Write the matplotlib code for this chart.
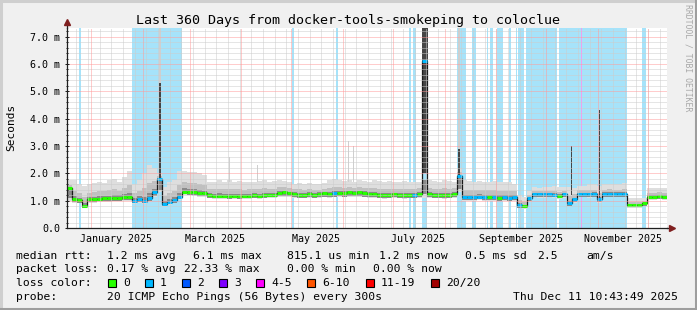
import datetime as dt
import numpy as np
import matplotlib
matplotlib.use('Agg')
import matplotlib.pyplot as plt
import matplotlib.dates as mdates
from matplotlib.patches import Rectangle
from matplotlib.lines import Line2D
from matplotlib.ticker import MultipleLocator, FuncFormatter

plt.rcParams['font.family'] = ['DejaVu Sans Mono', 'DejaVu Sans']

# ---- data (360 days, one value every 3 days) ----
start_time = dt.datetime(2024, 12, 17, 10)
span_days = 360
step_days = 3

median_ms = [
    1.45, 1.05, 1.02, 0.82, 1.05, 1.05, 1.07, 1.08, 1.08, 1.10,
    1.10, 1.12, 1.12, 1.00, 1.05, 1.00, 1.08, 1.30, 1.80, 0.88,
    0.95, 1.02, 1.15, 1.33, 1.32, 1.30, 1.27, 1.27, 1.20, 1.18,
    1.18, 1.18, 1.17, 1.18, 1.17, 1.18, 1.18, 1.20, 1.18, 1.20,
    1.22, 1.22, 1.28, 1.30, 1.27, 1.25, 1.22, 1.22, 1.25, 1.22,
    1.25, 1.27, 1.25, 1.27, 1.28, 1.27, 1.30, 1.28, 1.30, 1.27,
    1.25, 1.23, 1.22, 1.20, 1.22, 1.23, 1.22, 1.20, 1.22, 1.22,
    1.25, 6.10, 1.25, 1.22, 1.22, 1.20, 1.22, 1.25, 1.90, 1.12,
    1.12, 1.13, 1.15, 1.12, 1.12, 1.12, 1.10, 1.12, 1.10, 1.12,
    0.85, 0.80, 1.10, 1.25, 1.23, 1.23, 1.25, 1.22, 1.18, 1.23,
    0.90, 1.05, 1.25, 1.25, 1.23, 1.25, 1.05, 1.25, 1.25, 1.25,
    1.25, 1.25, 0.85, 0.85, 0.85, 0.90, 1.15, 1.15, 1.18, 1.15,
]

smoke_lo = [
    1.00, 0.92, 0.90, 0.72, 0.92, 0.93, 0.95, 0.96, 0.96, 0.98,
    0.98, 1.00, 1.00, 0.88, 0.92, 0.88, 0.95, 1.12, 1.30, 0.78,
    0.84, 0.90, 1.02, 1.20, 1.20, 1.18, 1.15, 1.15, 1.08, 1.06,
    1.06, 1.06, 1.05, 1.06, 1.05, 1.06, 1.06, 1.08, 1.06, 1.08,
    1.10, 1.10, 1.14, 1.15, 1.13, 1.10, 1.08, 1.08, 1.10, 1.08,
    1.10, 1.12, 1.10, 1.12, 1.13, 1.12, 1.15, 1.13, 1.15, 1.12,
    1.10, 1.10, 1.08, 1.07, 1.08, 1.10, 1.08, 1.07, 1.08, 1.08,
    1.10, 1.10, 1.10, 1.08, 1.08, 1.06, 1.08, 1.10, 1.30, 1.00,
    1.00, 1.00, 1.02, 1.00, 1.00, 1.00, 0.98, 1.00, 0.98, 1.00,
    0.72, 0.70, 0.95, 1.12, 1.10, 1.10, 1.12, 1.10, 1.06, 1.10,
    0.80, 0.92, 1.12, 1.12, 1.10, 1.12, 0.92, 1.12, 1.12, 1.12,
    1.12, 1.12, 0.75, 0.75, 0.75, 0.80, 1.03, 1.03, 1.05, 1.03,
]

smoke_hi = [
    1.75, 1.75, 1.60, 1.55, 1.60, 1.65, 1.70, 1.65, 1.75, 1.80,
    1.70, 1.85, 2.10, 1.60, 1.75, 2.00, 2.30, 2.20, 2.00, 1.50,
    1.70, 1.75, 2.10, 2.10, 2.05, 2.05, 2.00, 1.95, 1.70, 1.70,
    1.75, 1.70, 1.75, 1.70, 1.72, 1.68, 1.70, 1.70, 1.72, 1.75,
    1.70, 1.72, 1.75, 1.72, 1.70, 1.62, 1.65, 1.60, 1.65, 1.62,
    1.60, 1.65, 1.75, 1.78, 1.75, 1.72, 1.75, 1.70, 1.75, 1.72,
    1.70, 1.75, 1.72, 1.70, 1.72, 1.68, 1.70, 1.72, 1.70, 1.68,
    1.70, 1.75, 1.75, 1.72, 1.70, 1.75, 1.72, 1.70, 2.20, 1.75,
    1.72, 1.70, 1.72, 1.70, 1.70, 1.72, 1.70, 1.68, 1.70, 1.60,
    1.20, 1.15, 1.35, 1.50, 1.48, 1.50, 1.50, 1.52, 1.50, 1.50,
    1.50, 1.45, 1.55, 1.55, 1.60, 1.60, 1.55, 1.60, 1.62, 1.60,
    1.60, 1.65, 1.10, 1.10, 1.10, 1.10, 1.45, 1.45, 1.45, 1.45,
]

# loss per sample: 0 -> 0 lost, 1 -> 1 lost
loss_level = [
    0, 0, 0, 0, 0, 0, 0, 0, 0, 0,
    0, 0, 0, 1, 1, 1, 1, 1, 1, 1,
    1, 1, 1, 0, 0, 0, 0, 0, 0, 0,
    0, 0, 0, 0, 0, 0, 0, 0, 0, 0,
    0, 0, 0, 0, 0, 0, 0, 0, 0, 0,
    0, 0, 0, 1, 0, 0, 0, 0, 0, 0,
    0, 0, 0, 0, 0, 0, 0, 0, 0, 1,
    0, 1, 0, 0, 0, 0, 0, 0, 1, 1,
    1, 1, 1, 1, 0, 1, 0, 1, 1, 1,
    1, 0, 1, 1, 1, 1, 1, 1, 0, 1,
    1, 1, 1, 1, 1, 1, 1, 1, 1, 1,
    1, 1, 0, 0, 0, 0, 0, 0, 0, 0,
]

# short-lived outliers (days from start)
spike_start = [55.4, 97.0, 114.0, 168.4, 171.4, 213.0, 234.4, 302.4, 319.2]
spike_end = [56.6, 97.6, 114.6, 169.0, 172.0, 216.3, 235.6, 302.9, 320.1]
spike_base = [1.80, 1.70, 1.70, 1.70, 1.70, 2.00, 1.90, 1.20, 1.10]
spike_dark = [5.30, 1.70, 1.70, 1.70, 1.70, 7.50, 2.90, 3.00, 4.30]
spike_top = [7.50, 2.60, 2.30, 3.20, 3.00, 7.50, 7.50, 3.00, 4.30]

# periods with packet loss (days from start)
loss_start = [7.2, 39.2, 135.0, 161.4, 205.2, 207.6, 213.0, 234.0, 243.0, 252.0,
              253.8, 258.0, 265.2, 269.4, 270.6, 275.4, 295.2, 345.0]
loss_end = [8.4, 68.8, 136.2, 162.4, 206.4, 209.4, 216.0, 239.4, 245.4, 252.6,
            255.6, 261.6, 266.4, 270.0, 274.2, 294.0, 336.0, 347.4]
heavy_loss_start = [308.6]
heavy_loss_end = [309.2]

loss_colors = ['#26ff00', '#00b8ff', '#0059ff', '#7e00ff', '#ff00fe', '#ff5500', '#ff0000', '#a10000']
loss_labels = ['0', '1', '2', '3', '4-5', '6-10', '11-19', '20/20']

# ---- figure ----
W, H = 697, 310
fig = plt.figure(figsize=(W / 100, H / 100), dpi=100, facecolor='#f0f0f0')
ax = fig.add_axes([67 / W, 82 / H, 600 / W, 200 / H])
ax.set_facecolor('white')

x0 = mdates.date2num(start_time)
edges = x0 + np.arange(0, span_days + 1, step_days)
med = np.array(median_ms)
lo = np.array(smoke_lo)
hi = np.array(smoke_hi)
medc = np.clip(med, lo, hi)

def ext(a):
    return np.append(a, a[-1])

# loss background bars
for s, e in zip(loss_start, loss_end):
    ax.axvspan(x0 + s, x0 + e, color='#a6e3fa', lw=0, zorder=0.5)
for s, e in zip(heavy_loss_start, heavy_loss_end):
    ax.axvspan(x0 + s, x0 + e, color='#eea0ee', lw=0, zorder=0.6)

# smoke
ax.fill_between(edges, ext(lo), ext(hi), step='post', color='#dedede', lw=0, zorder=1.1)
ax.fill_between(edges, ext(medc - 0.5 * (medc - lo)), ext(medc + 0.45 * (hi - medc)),
                step='post', color='#c0c0c0', lw=0, zorder=1.2)
ax.fill_between(edges, ext(medc - 0.8 * (medc - lo)), ext(medc + 0.15 * (hi - medc)),
                step='post', color='#8a8a8a', lw=0, zorder=1.3)

for s, e, b, d, t in zip(spike_start, spike_end, spike_base, spike_dark, spike_top):
    ax.fill_between([x0 + s, x0 + e], [b, b], [t, t], color='#cfcfcf', lw=0, zorder=1.5)
    if d > b:
        ax.fill_between([x0 + s, x0 + e], [b, b], [d, d], color='#454545', lw=0, zorder=1.6)

# median
ax.step(edges, ext(med), where='post', color='#1a1a1a', lw=0.9, zorder=1.9)
ax.hlines(med, edges[:-1], edges[1:], colors=[loss_colors[l] for l in loss_level],
          lw=2.2, zorder=2)

ax.set_xlim(x0, x0 + span_days)
ax.set_ylim(0, 200 / 27.33)

# grid
ax.set_axisbelow(False)
ax.yaxis.set_major_locator(MultipleLocator(1.0))
ax.yaxis.set_minor_locator(MultipleLocator(0.2))
ax.yaxis.set_major_formatter(FuncFormatter(lambda v, p: '0.0' if v == 0 else '%.1f m' % v))
ax.grid(True, axis='y', which='major', color='#ff9a9a', lw=0.72, ls=(0, (1, 1)))
ax.grid(True, axis='y', which='minor', color='#cccccc', lw=0.72, ls=(0, (1, 1)))

ax.xaxis.set_major_locator(mdates.MonthLocator(bymonth=[1, 3, 5, 7, 9, 11], bymonthday=16))
ax.xaxis.set_major_formatter(mdates.DateFormatter('%B %Y'))
ax.xaxis.set_minor_locator(mdates.WeekdayLocator(byweekday=mdates.MO))
ax.grid(True, axis='x', which='minor', color='#cccccc', lw=0.72, ls=(0, (1, 1)))
month_loc = mdates.MonthLocator(bymonthday=1)
for m in month_loc.tick_values(mdates.num2date(x0), mdates.num2date(x0 + span_days)):
    if x0 < m < x0 + span_days:
        ax.axvline(m, color='#ff9a9a', lw=0.72, ls=(0, (1, 1)), zorder=2.6)

ax.tick_params(axis='x', which='both', length=0, pad=4.5, labelsize=7.2)
ax.tick_params(axis='y', which='major', direction='inout', length=2.9, width=0.72,
               color='#1f1f1f', pad=3.5, labelsize=7.2)
ax.tick_params(axis='y', which='minor', direction='inout', length=1.5, width=0.72, color='#1f1f1f')

for side in ['top', 'right']:
    ax.spines[side].set_visible(False)
for side in ['left', 'bottom']:
    ax.spines[side].set_color('#1f1f1f')
    ax.spines[side].set_linewidth(0.9)
    ax.spines[side].set_zorder(3)

# axis arrows
ax.plot([0, 0], [1.0, 1.015], transform=ax.transAxes, color='#1f1f1f', lw=0.9, clip_on=False)
ax.plot([1.0, 1.004], [0, 0], transform=ax.transAxes, color='#1f1f1f', lw=0.9, clip_on=False)
ax.plot([0], [1.028], marker='^', ms=4.2, color='#7f1f1f', transform=ax.transAxes, clip_on=False)
ax.plot([1.009], [0], marker='>', ms=4.2, color='#7f1f1f', transform=ax.transAxes, clip_on=False)

fig.text(11 / W, 1 - 127 / H, 'Seconds', rotation=90, ha='center', va='center', fontsize=8)

def ftext(x, y, s, **kw):
    return fig.text(x / W, 1 - y / H, s, va='baseline', ha='left', **kw)

t = ftext(W / 2, 24, 'Last 360 Days from docker-tools-smokeping to coloclue', fontsize=9.6)
t.set_ha('center')

fig.text(688 / W, 1 - 4 / H, 'RRDTOOL / TOBI OETIKER', rotation=270, va='top', ha='center',
         fontsize=5.9, color='#a8a8a8')

leg_fs = 8.2
ftext(16, 259, 'median rtt:', fontsize=leg_fs)
for x, s in [(107, '1.2 ms avg'), (193, '6.1 ms max'), (287, '815.1 us min'),
             (379, '1.2 ms now'), (465, '0.5 ms sd'), (537, '2.5'), (586, 'am/s')]:
    ftext(x, 259, s, fontsize=leg_fs)

ftext(16, 272.5, 'packet loss:', fontsize=leg_fs)
for x, s in [(107, '0.17 % avg'), (184, '22.33 % max'), (287, '0.00 % min'), (373, '0.00 % now')]:
    ftext(x, 272.5, s, fontsize=leg_fs)

ftext(16, 286, 'loss color:', fontsize=leg_fs)
box_x = [108, 145, 182, 219, 256, 307, 366, 431]
for bx, col, lab in zip(box_x, loss_colors, loss_labels):
    fig.add_artist(Rectangle((bx / W, 1 - 286.5 / H), 8 / W, 8 / H, transform=fig.transFigure,
                             facecolor=col, edgecolor='black', lw=0.8))
    ftext(bx + 15, 286, lab, fontsize=leg_fs)

ftext(16, 299.5, 'probe:', fontsize=leg_fs)
ftext(107, 299.5, '20 ICMP Echo Pings (56 Bytes) every 300s', fontsize=leg_fs)
ftext(513, 299.5, 'Thu Dec 11 10:43:49 2025', fontsize=leg_fs)

# shaded frame
for xs, ys, c in [([0, 1], [1 - 1 / H, 1 - 1 / H], '#cfcfcf'),
                  ([1 / W, 1 / W], [0, 1], '#cfcfcf'),
                  ([1 - 1.5 / W, 1 - 1.5 / W], [0, 1], '#9e9e9e'),
                  ([0, 1], [1.5 / H, 1.5 / H], '#9e9e9e')]:
    fig.add_artist(Line2D(xs, ys, transform=fig.transFigure, color=c, lw=2.2))

fig.savefig('out.png', dpi=100, facecolor=fig.get_facecolor())
